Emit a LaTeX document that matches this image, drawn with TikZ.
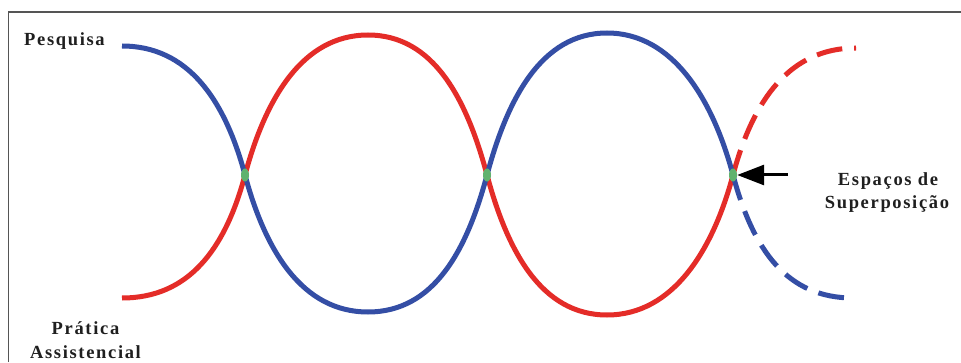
\documentclass[tikz,border=0pt]{standalone}
\usepackage{fontspec}
\setmainfont{Liberation Serif}[LetterSpace=9]
\usetikzlibrary{arrows.meta,shapes.geometric}
\definecolor{wblue}{RGB}{52,78,165}
\definecolor{wred}{RGB}{228,44,40}
\definecolor{wgreen}{RGB}{96,178,110}
\definecolor{wframe}{RGB}{85,85,85}
\tikzset{
  wave/.style={line width=5pt},
  dashwave/.style={line width=5pt, dash pattern=on 26pt off 12pt},
  toapex/.style={out distance=78pt, in distance=66pt},
  fromapex/.style={out distance=66pt, in distance=78pt},
  lbl/.style={font=\fontsize{18.5}{20}\selectfont\bfseries, text=black!88, inner sep=0pt},
  cross/.style={ellipse, fill=wgreen, minimum width=8pt, minimum height=13pt, inner sep=0pt},
}
\begin{document}
\begin{tikzpicture}[x=1pt,y=1pt]
\useasboundingbox (0,0) rectangle (961,362);
\fill[white] (0,0) rectangle (961,362);
% frame
\draw[wframe, line width=1.5pt] (8.5,0) -- (8.5,350) -- (961,350);
% key points
\coordinate (bs) at (122,316);
\coordinate (rs) at (122,64);
\coordinate (c1) at (245,187);
\coordinate (c2) at (487,187);
\coordinate (c3) at (733,187);
\coordinate (bb) at (368,50);
\coordinate (rt) at (368,327);
\coordinate (bt) at (607,329);
\coordinate (rb) at (607,47);
\coordinate (be) at (853,64);
\coordinate (re) at (856,314);
% red
\draw[wave, wred] (rs) to[out=0,in=-105,fromapex] (c1) to[out=75,in=180,toapex] (rt)
  to[out=0,in=105,fromapex] (c2) to[out=-75,in=180,toapex] (rb) to[out=0,in=-105,fromapex] (c3);
\draw[dashwave, wred] (c3) to[out=75,in=180,toapex] (re);
% blue
\draw[wave, wblue] (bs) to[out=0,in=105,fromapex] (c1) to[out=-75,in=180,toapex] (bb)
  to[out=0,in=-105,fromapex] (c2) to[out=75,in=180,toapex] (bt) to[out=0,in=105,fromapex] (c3);
\draw[dashwave, wblue] (c3) to[out=-75,in=180,toapex] (be);
% crossings
\node[cross] (x1) at (c1) {};
\node[cross] (x2) at (c2) {};
\node[cross] (x3) at (c3) {};
% arrow
\coordinate (atail) at (788,187);
\draw[black, line width=3pt, -{Triangle[length=27pt,width=20pt]}] (atail) -- (x3.east);
% labels
\node[lbl] (pesq) at (64.5,321) {Pesquisa};
\node[lbl] (prat) at (85.5,34) {Prática};
\node[lbl] (assi) at (85.5,10) {Assistencial};
\node[lbl] (esp) at (888,181) {Espaços de};
\node[lbl] (sup) at (887,158) {Superposição};
\end{tikzpicture}
\end{document}
